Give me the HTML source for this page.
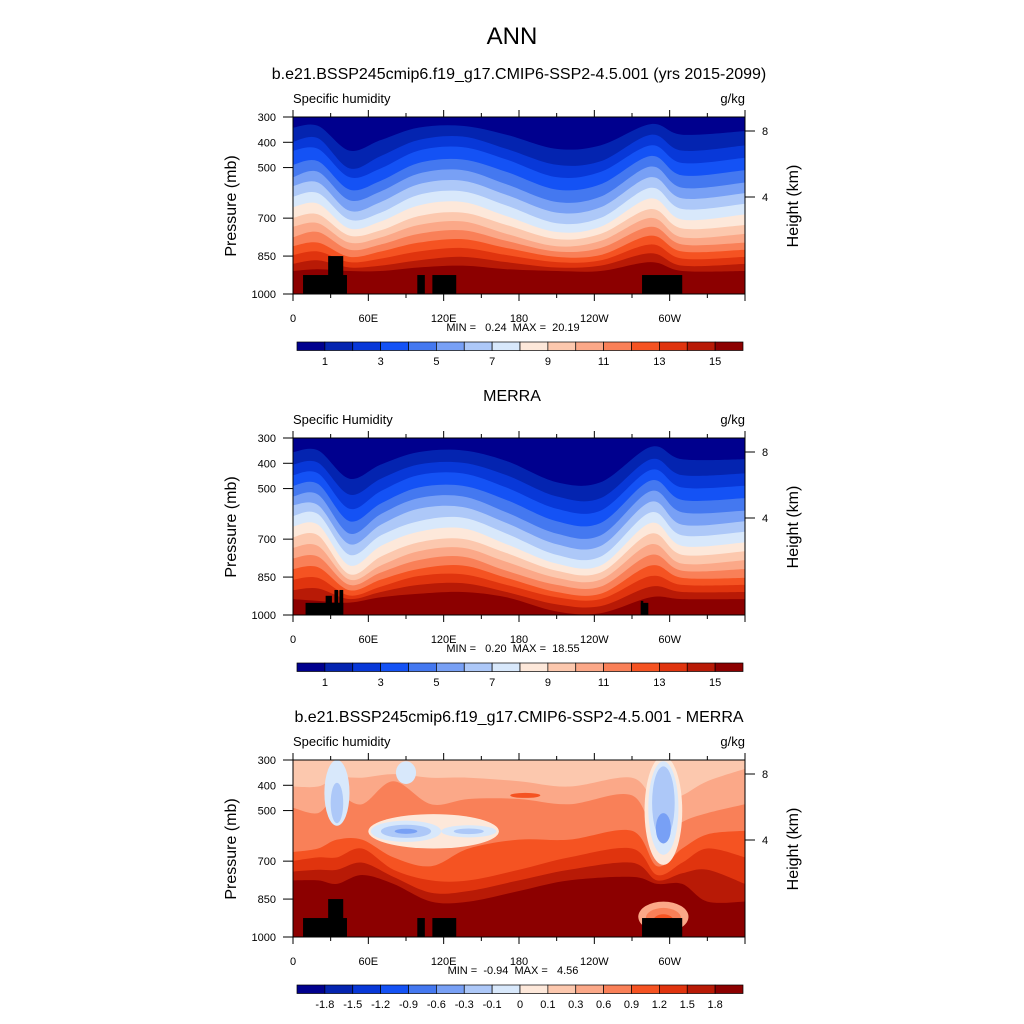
<!DOCTYPE html>
<html><head><meta charset="utf-8"><style>
body{margin:0;background:#fff}
svg{display:block;font-family:"Liberation Sans",sans-serif}
</style></head><body>
<svg id="fig" width="1024" height="1024" viewBox="0 0 1024 1024">
<text x="512" y="44" font-size="24" text-anchor="middle">ANN</text>
<text x="519" y="79" font-size="16" text-anchor="middle">b.e21.BSSP245cmip6.f19_g17.CMIP6-SSP2-4.5.001 (yrs 2015-2099)</text>
<text x="512" y="401" font-size="16" text-anchor="middle">MERRA</text>
<text x="519" y="722" font-size="16" text-anchor="middle">b.e21.BSSP245cmip6.f19_g17.CMIP6-SSP2-4.5.001 - MERRA</text>
</svg>
<script>
const colors=["#00008e","#0424b0","#0838d8","#1452f5","#4478f0","#78a0f5","#adc8f8","#d8e8fb","#fde8da","#fcc8ae","#fba888","#f98058","#f55322","#e0340e","#b81a06","#8c0000"];
const lonTickLabels=["0","60E","120E","180","120W","60W"];
const presTicks=[300,400,500,700,850,1000];
const heightTicks=[8,4];
const cbLabels12=["","1","","3","","5","","7","","9","","11","","13","","15"];
const cbLabels3=["-1.8","-1.5","-1.2","-0.9","-0.6","-0.3","-0.1","0","0.1","0.3","0.6","0.9","1.2","1.5","1.8"];
const lons1=[0,20,45,70,100,135,170,210,245,285,310,360];
const prof1=[
[342,398,433,489,538,573,615,657,699,734,776,811,846,881,909],
[335,384,426,475,517,559,601,643,685,720,755,797,832,867,902],
[433,503,538,587,629,671,706,741,769,797,825,853,874,895,909],
[391,454,503,552,594,636,678,713,748,776,804,832,860,888,909],
[342,391,433,482,524,566,608,650,692,727,762,797,832,867,895],
[335,377,419,468,510,552,594,636,678,713,748,783,818,853,888],
[370,426,468,517,566,608,650,692,727,762,790,818,846,874,902],
[426,489,538,587,636,678,720,755,783,811,832,853,874,895,909],
[412,475,517,566,615,657,699,734,762,790,818,846,867,888,909],
[328,370,412,454,496,538,580,622,664,699,734,769,804,839,874],
[370,433,482,531,580,622,664,706,741,776,804,832,860,888,909],
[356,412,461,510,559,601,643,685,727,762,797,825,853,881,909]];
const prof2=[
[356,405,447,489,531,566,608,650,692,734,776,818,860,902,937],
[349,398,440,482,524,566,601,643,685,727,769,811,853,895,944],
[461,524,580,629,678,720,762,804,839,860,881,902,923,937,951],
[405,461,510,559,601,643,685,727,769,804,832,860,888,909,930],
[356,405,447,496,538,580,629,671,713,748,783,818,846,881,916],
[349,398,440,489,531,573,615,657,699,734,769,804,839,874,909],
[391,447,496,545,594,636,678,720,755,790,825,853,881,909,930],
[475,531,580,629,678,720,762,797,825,853,881,909,930,958,986],
[475,538,587,636,685,727,769,804,832,860,888,916,937,965,993],
[335,384,426,468,510,552,594,636,678,720,762,804,846,888,930],
[384,447,496,545,594,643,685,727,762,797,825,853,881,909,937],
[384,440,489,538,587,629,671,713,748,783,818,853,881,909,937]];
const lons3=[0,20,35,55,80,110,140,180,220,270,290,310,330,360];
const prof3=[
[405,489,664,699,741,776],[405,510,650,685,734,776],[370,440,615,685,734,790],
[370,475,615,650,706,755],[356,384,685,734,762,790],[370,475,720,776,825,860],
[370,454,650,776,818,860],[384,454,615,734,776,818],[405,475,615,685,734,776],
[370,440,580,650,706,762],[475,615,720,755,776,790],[440,545,650,706,748,790],
[384,510,594,650,734,860],[335,475,580,685,790,860]];
// blobs: lon, pressure, lon-radius, pressure-radius, level
const blobs3=[[35,430,10,130,7],[35,470,5,80,6],[90,350,8,45,7],
[112,582,52,68,8],[90,582,28,42,7],[90,582,20,26,6],[90,582,9,10,5],[140,582,22,24,7],[140,582,12,11,6],
[295,500,15,215,8],[295,490,12,185,7],[295,470,9,145,6],[295,570,6,60,5],
[185,440,12,10,12],[295,920,20,60,10],[295,925,14,40,11],[295,935,8,25,12]];
// terrain boxes: lon0, lon1, top pressure
const terrainA=[[8,43,925],[28,40,850],[99,105,925],[111,130,925],[278,310,925]];
const terrainB=[[10,40,952],[26,31,924],[33,36,901],[37,40,901],[277,283,952],[277,279,944]];

const svg=document.getElementById('fig');
const NS="http://www.w3.org/2000/svg";
const X0=293,W=452,H=177;
function mk(tag,attrs,parent){const e=document.createElementNS(NS,tag);for(const k in attrs)e.setAttribute(k,attrs[k]);(parent||svg).appendChild(e);return e;}
function xs(l){return X0+l/360*W;}
function ysf(top){return p=>top+(p-300)/700*H;}
function curve(pts){let d="M"+pts[0][0]+","+pts[0][1];
 for(let i=0;i<pts.length-1;i++){const p0=pts[Math.max(0,i-1)],p1=pts[i],p2=pts[i+1],p3=pts[Math.min(pts.length-1,i+2)];
  d+=" C"+(p1[0]+(p2[0]-p0[0])/6)+","+(p1[1]+(p2[1]-p0[1])/6)+" "+(p2[0]-(p3[0]-p1[0])/6)+","+(p2[1]-(p3[1]-p1[1])/6)+" "+p2[0]+","+p2[1];}
 return d;}
function panel(idx,top,lons,prof,base,blobs,terrain,cbLabels,minmax,name){
 const ys=ysf(top);
 const cp=mk('clipPath',{id:'cp'+idx});mk('rect',{x:X0,y:top,width:W,height:H},cp);
 const g=mk('g',{'clip-path':'url(#cp'+idx+')'});
 
 
 const bg=mk('rect',{x:X0,y:top,width:W,height:H,fill:colors[base]},g);
 
 
 const nb=prof[0].length;
 for(let k=0;k<nb;k++){
  const pts=lons.map((l,i)=>[xs(l),ys(prof[i][k])]);
  const d=curve(pts)+" L"+(X0+W)+","+(top+H+2)+" L"+X0+","+(top+H+2)+" Z";
  const e=mk('path',{d:d,fill:colors[base+k+1]},g);
  
  
 }
 (blobs||[]).forEach(b=>{const e=mk('ellipse',{cx:xs(b[0]),cy:ys(b[1]),rx:b[2]/360*W,ry:b[3]/700*H,fill:colors[b[4]]},g);
  
  });
 terrain.forEach(t=>{const e=mk('rect',{x:xs(t[0]),y:ys(t[2]),width:xs(t[1])-xs(t[0]),height:top+H-ys(t[2])+1,fill:'#000'},g);
  
  });
 const fr=mk('rect',{x:X0,y:top,width:W,height:H,fill:'none',stroke:'#000','stroke-width':1});
 
 
 for(let l=0;l<=360;l+=30){const x=xs(l),len=l%60==0?7:4;
  mk('line',{x1:x,x2:x,y1:top+H,y2:top+H+len,stroke:'#000'});
  mk('line',{x1:x,x2:x,y1:top,y2:top-len,stroke:'#000'});
  if(l%60==0&&l<360){const t=mk('text',{x:x,y:top+H+28,'font-size':11,'text-anchor':'middle'});t.textContent=lonTickLabels[l/60];
   
   }}
 presTicks.forEach(p=>{const y=ys(p);mk('line',{x1:X0-10,x2:X0,y1:y,y2:y,stroke:'#000'});
  const t=mk('text',{x:X0-17,y:y+4,'font-size':11,'text-anchor':'end'});t.textContent=p;
  
  });
 heightTicks.forEach(h=>{const y=top+14+(8-h)/4*66;mk('line',{x1:X0+W,x2:X0+W+10,y1:y,y2:y,stroke:'#000'});
  const t=mk('text',{x:X0+W+17,y:y+4,'font-size':11});t.textContent=h;
  
  });
 let t=mk('text',{x:X0,y:top-14,'font-size':13});t.textContent=idx==2?"Specific Humidity":"Specific humidity";
 
 
 t=mk('text',{x:X0+W,y:top-14,'font-size':13,'text-anchor':'end'});t.textContent="g/kg";
 
 
 t=mk('text',{x:0,y:0,'font-size':16,'text-anchor':'middle',transform:'translate(236,'+(top+89)+') rotate(-90)'});t.textContent="Pressure (mb)";
 
 
 t=mk('text',{x:0,y:0,'font-size':16,'text-anchor':'middle',transform:'translate(798,'+(top+89)+') rotate(-90)'});t.textContent="Height (km)";
 
 
 t=mk('text',{x:513,y:top+214,'font-size':11,'text-anchor':'middle',style:'white-space:pre'});t.textContent=minmax;
 
 
 const cy=top+225,cw=446/16;
 for(let i=0;i<16;i++){const r=mk('rect',{x:297+i*cw,y:cy,width:cw,height:8.5,fill:colors[i],stroke:'#000','stroke-width':0.7});
  
  }
 cbLabels.forEach((s,i)=>{if(!s)return;const t=mk('text',{x:297+(i+1)*cw,y:cy+23,'font-size':11,'text-anchor':'middle'});t.textContent=s;
  
  });
}
panel(1,117,lons1,prof1,0,null,terrainA,cbLabels12.slice(1),"MIN =   0.24  MAX =  20.19","model-panel");
panel(2,438,lons1,prof2,0,null,terrainB,cbLabels12.slice(1),"MIN =   0.20  MAX =  18.55","merra-panel");
panel(3,760,lons3,prof3,9,blobs3,terrainA,cbLabels3,"MIN =  -0.94  MAX =   4.56","difference-panel");
</script>
</body></html>
